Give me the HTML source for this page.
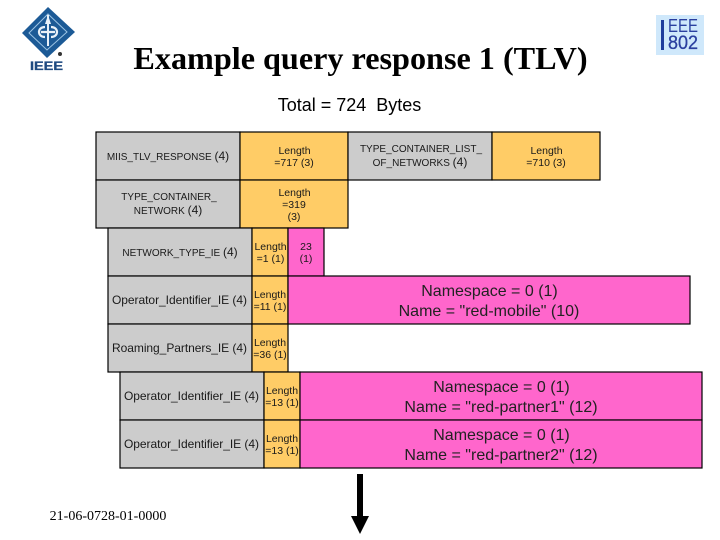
<!DOCTYPE html>
<html>
<head>
<meta charset="utf-8">
<style>
html,body{margin:0;padding:0;background:#fff;width:720px;height:540px;overflow:hidden}
svg{display:block}
text{font-family:"Liberation Sans",sans-serif;fill:#1a1a1a;text-anchor:middle}
.g{fill:#cccccc;stroke:#000;stroke-width:1.2}
.o{fill:#ffcc66;stroke:#000;stroke-width:1.2}
.p{fill:#ff66cc;stroke:#000;stroke-width:1.2}
.s{font-size:10.5px}
.m{font-size:10px}
.m tspan{font-size:12px}
.l{font-size:12px}
.b{font-size:16px;fill:#222}
</style>
</head>
<body>
<svg width="720" height="540" viewBox="0 0 720 540" xmlns="http://www.w3.org/2000/svg">
<!-- IEEE logo -->
<polygon points="48,7 75,32 47,58 22,33" fill="#1c5a96"/>
<polygon points="48,14 67,32 47,50 29,33" fill="none" stroke="#9cc4e4" stroke-width="1"/>
<path d="M48,15 L48,46" stroke="#e8f0f8" stroke-width="2"/>
<path d="M48,15 L45,24 L51,24 Z" fill="#e8f0f8"/>
<path d="M45,27 C37,27 37,37 45,37 M51,27 C59,27 59,37 51,37 M41,32 H55" stroke="#e8f0f8" stroke-width="2.2" fill="none"/>
<circle cx="60" cy="54" r="2" fill="#333"/>
<text x="46.500" y="70" textLength="33" lengthAdjust="spacingAndGlyphs" style="font-size:11.5px;font-weight:bold;fill:#1f4a80;stroke:#1f4a80;stroke-width:.3">IEEE</text>
<!-- IEEE 802 logo -->
<rect x="656" y="15" width="48" height="40" fill="#cfe8fb"/>
<rect x="661" y="20" width="3" height="30" fill="#1f3d9c"/>
<text x="683" y="32" textLength="30" lengthAdjust="spacingAndGlyphs" style="font-size:18px;fill:#2a3f9f">EEE</text>
<text x="683" y="49" textLength="30" lengthAdjust="spacingAndGlyphs" style="font-size:19.5px;fill:#2a3f9f;stroke:#2a3f9f;stroke-width:.3">802</text>
<!-- Title -->
<text x="360.5" y="69" style="font-family:'Liberation Serif',serif;font-size:32.2px;font-weight:bold;fill:#000">Example query response 1 (TLV)</text>
<text x="349.5" y="111" style="font-size:18px;fill:#000" xml:space="preserve">Total = 724  Bytes</text>
<!-- Row 1 -->
<rect class="g" x="96" y="132" width="144" height="48"/>
<rect class="o" x="240" y="132" width="108" height="48"/>
<rect class="g" x="348" y="132" width="144" height="48"/>
<rect class="o" x="492" y="132" width="108" height="48"/>
<text class="m" x="168" y="160">MIIS_TLV_RESPONSE <tspan>(4)</tspan></text>
<text class="s" x="294.500" y="154">Length</text>
<text class="s" x="294" y="166">=717 (3)</text>
<text class="m" x="421" y="152">TYPE_CONTAINER_LIST_</text>
<text class="m" x="420" y="166">OF_NETWORKS <tspan>(4)</tspan></text>
<text class="s" x="546.500" y="154">Length</text>
<text class="s" x="546" y="166">=710 (3)</text>
<!-- Row 2 -->
<rect class="g" x="96" y="180" width="144" height="48"/>
<rect class="o" x="240" y="180" width="108" height="48"/>
<text class="m" x="169" y="200">TYPE_CONTAINER_</text>
<text class="m" x="168" y="214">NETWORK <tspan>(4)</tspan></text>
<text class="s" x="294.500" y="196">Length</text>
<text class="s" x="294" y="208">=319</text>
<text class="s" x="294" y="220">(3)</text>
<!-- Row 3 -->
<rect class="g" x="108" y="228" width="144" height="48"/>
<rect class="o" x="252" y="228" width="36" height="48"/>
<rect class="p" x="288" y="228" width="36" height="48"/>
<text class="m" x="180" y="256">NETWORK_TYPE_IE <tspan>(4)</tspan></text>
<text class="s" x="270.5" y="250">Length</text>
<text class="s" x="270.5" y="262">=1 (1)</text>
<text class="s" x="306" y="250">23</text>
<text class="s" x="306" y="262">(1)</text>
<!-- Row 4 -->
<rect class="g" x="108" y="276" width="144" height="48"/>
<rect class="o" x="252" y="276" width="36" height="48"/>
<rect class="p" x="288" y="276" width="402" height="48"/>
<text class="l" x="179.500" y="304" textLength="135">Operator_Identifier_IE (4)</text>
<text class="s" x="270" y="298">Length</text>
<text class="s" x="270" y="310">=11 (1)</text>
<text class="b" x="489.500" y="296">Namespace = 0 (1)</text>
<text class="b" x="489" y="316">Name = "red-mobile" (10)</text>
<!-- Row 5 -->
<rect class="g" x="108" y="324" width="144" height="48"/>
<rect class="o" x="252" y="324" width="36" height="48"/>
<text class="l" x="179.500" y="352" textLength="135">Roaming_Partners_IE (4)</text>
<text class="s" x="270" y="346">Length</text>
<text class="s" x="270" y="358">=36 (1)</text>
<!-- Row 6 -->
<rect class="g" x="120" y="372" width="144" height="48"/>
<rect class="o" x="264" y="372" width="36" height="48"/>
<rect class="p" x="300" y="372" width="402" height="48"/>
<text class="l" x="191.500" y="400" textLength="135">Operator_Identifier_IE (4)</text>
<text class="s" x="282" y="394">Length</text>
<text class="s" x="282" y="406">=13 (1)</text>
<text class="b" x="501.500" y="392">Namespace = 0 (1)</text>
<text class="b" x="501" y="412">Name = "red-partner1" (12)</text>
<!-- Row 7 -->
<rect class="g" x="120" y="420" width="144" height="48"/>
<rect class="o" x="264" y="420" width="36" height="48"/>
<rect class="p" x="300" y="420" width="402" height="48"/>
<text class="l" x="191.500" y="448" textLength="135">Operator_Identifier_IE (4)</text>
<text class="s" x="282" y="442">Length</text>
<text class="s" x="282" y="454">=13 (1)</text>
<text class="b" x="501.500" y="440">Namespace = 0 (1)</text>
<text class="b" x="501" y="460">Name = "red-partner2" (12)</text>
<!-- Arrow -->
<rect x="357" y="474" width="6" height="43" fill="#000"/>
<polygon points="351,516 369,516 360,534" fill="#000"/>
<!-- Footer -->
<text x="108" y="520" style="font-family:'Liberation Serif',serif;font-size:14px;fill:#000">21-06-0728-01-0000</text>
</svg>
</body>
</html>
